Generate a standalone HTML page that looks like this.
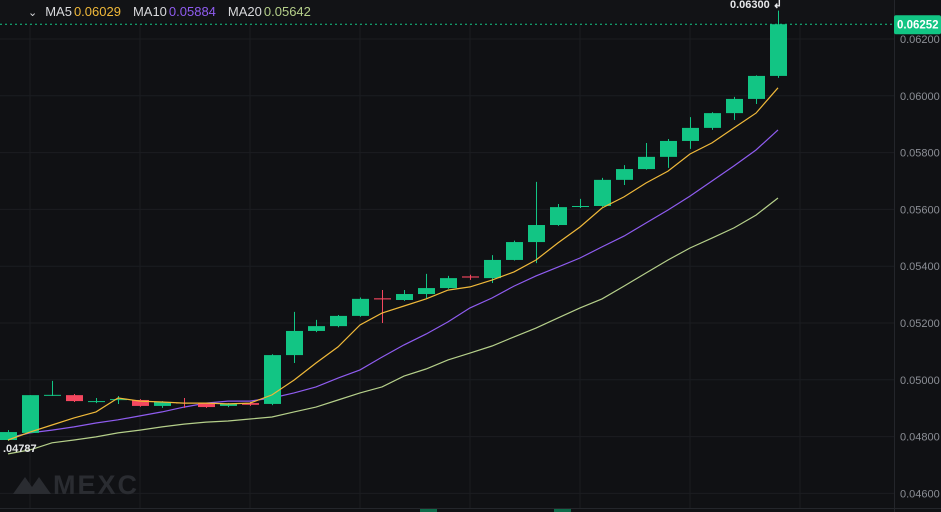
<!DOCTYPE html>
<html><head><meta charset="utf-8">
<style>
html,body{margin:0;padding:0;background:#101114;}
#wrap{position:relative;width:941px;height:512px;overflow:hidden;background:#101114;font-family:"Liberation Sans",sans-serif;}
svg{position:absolute;left:0;top:0;}
#legend{position:absolute;left:28px;top:4px;font-size:13px;color:#d8d9dc;white-space:nowrap;}
#legend span{margin-right:2px}
</style></head>
<body>
<div id="wrap">
<svg id="chart" width="941" height="512"></svg>
<div id="legend">
<span style="font-size:11px;margin-right:8px;">&#8964;</span><span>MA5</span><span style="color:#f0b93a;margin-right:12px">0.06029</span><span>MA10</span><span style="color:#8f5cf0;margin-right:12px">0.05884</span><span>MA20</span><span style="color:#b5cf8a">0.05642</span>
</div>
</div>
<script>
const opens  = [0.04788,0.04813,0.04944,0.04946,0.04925,0.04930,0.04929,0.04908,0.04920,0.04918,0.04908,0.04918,0.04915,0.05087,0.05172,0.05189,0.05225,0.05287,0.05281,0.05302,0.05323,0.05364,0.05358,0.05422,0.05485,0.05545,0.05610,0.05612,0.05704,0.05742,0.05785,0.05841,0.05887,0.05939,0.05989,0.06070];
const closes = [0.04816,0.04946,0.04947,0.04925,0.04925,0.04932,0.04908,0.04922,0.04917,0.04904,0.04915,0.04912,0.05087,0.05172,0.05189,0.05225,0.05285,0.05283,0.05302,0.05323,0.05358,0.05360,0.05422,0.05485,0.05545,0.05608,0.05612,0.05704,0.05742,0.05785,0.05841,0.05887,0.05939,0.05989,0.06070,0.06252];
const highs  = [0.04823,0.04946,0.04996,0.04950,0.04936,0.04943,0.04932,0.04925,0.04936,0.04920,0.04918,0.04922,0.05090,0.05239,0.05211,0.05228,0.05290,0.05316,0.05316,0.05373,0.05366,0.05370,0.05439,0.05490,0.05697,0.05619,0.05637,0.05711,0.05756,0.05834,0.05848,0.05925,0.05942,0.05996,0.06072,0.06300];
const lows   = [0.04785,0.04813,0.04943,0.04922,0.04918,0.04915,0.04905,0.04901,0.04901,0.04901,0.04904,0.04908,0.04911,0.05059,0.05168,0.05185,0.05222,0.05200,0.05278,0.05288,0.05320,0.05352,0.05341,0.05420,0.05411,0.05542,0.05605,0.05609,0.05686,0.05740,0.05746,0.05813,0.05880,0.05915,0.05971,0.06063];
const ma5  = [0.04788,0.04816,0.04841,0.04866,0.04887,0.04936,0.04925,0.04922,0.04918,0.04918,0.04915,0.04918,0.04947,0.04999,0.05059,0.05116,0.05193,0.05235,0.05260,0.05285,0.05316,0.05327,0.05351,0.05380,0.05422,0.05482,0.05538,0.05605,0.05644,0.05693,0.05735,0.05795,0.05834,0.05887,0.05939,0.06028];
const ma10 = [0.04795,0.04813,0.04823,0.04834,0.04848,0.04859,0.04873,0.04887,0.04904,0.04918,0.04925,0.04925,0.04936,0.04954,0.04975,0.05006,0.05035,0.05080,0.05123,0.05161,0.05204,0.05253,0.05288,0.05330,0.05366,0.05397,0.05429,0.05468,0.05506,0.05552,0.05598,0.05647,0.05700,0.05753,0.05809,0.05880];
const ma20 = [0.04739,0.04753,0.04778,0.04788,0.04799,0.04813,0.04823,0.04834,0.04844,0.04851,0.04855,0.04862,0.04869,0.04887,0.04904,0.04929,0.04954,0.04975,0.05013,0.05038,0.05070,0.05094,0.05119,0.05151,0.05182,0.05218,0.05253,0.05285,0.05330,0.05376,0.05422,0.05464,0.05499,0.05535,0.05580,0.05640];
const yTicks = [0.062,0.060,0.058,0.056,0.054,0.052,0.050,0.048,0.046];
const yTickLabels = ["0.06200","0.06000","0.05800","0.05600","0.05400","0.05200","0.05000","0.04800","0.04600"];
const lastPrice = 0.06252, lastLabel = "0.06252";
const highLabel = "0.06300", lowLabel = ".04787";

const NS="http://www.w3.org/2000/svg";
const svg=document.getElementById('chart');
function y(v){return 39+(0.062-v)*28400;}
function x(i){return 8+i*22;}
function el(t,a,p){const e=document.createElementNS(NS,t);for(const k in a)e.setAttribute(k,a[k]);(p||svg).appendChild(e);return e;}

const grid=el('g',{});


for(let gx=30;gx<894;gx+=110){el('line',{x1:gx,x2:gx,y1:24,y2:508,stroke:'#1b1d21','stroke-width':1},grid);}
yTicks.forEach(t=>{el('line',{x1:0,x2:894,y1:y(t),y2:y(t),stroke:'#1b1d21','stroke-width':1},grid);});
el('line',{x1:0,x2:941,y1:508.5,y2:508.5,stroke:'#24262b','stroke-width':1},grid);
el('line',{x1:894.5,x2:894.5,y1:0,y2:512,stroke:'#24262b','stroke-width':1},grid);

const hb=el('rect',{x:0,y:0,width:894,height:22,fill:'#121316'});



const wm=el('g',{});


el('path',{d:'M13 494 L25 477 L32 487 L39 477 L46 487 L51 494 Z',fill:'#2a2c31'},wm);
const wt=el('text',{x:53,y:494,fill:'#2a2c31','font-size':27,'font-weight':'bold','font-family':'Liberation Sans, sans-serif','letter-spacing':'2'},wm);
wt.textContent='MEXC';

yTicks.forEach((t,i)=>{const tx=el('text',{x:900,y:y(t)+4,fill:'#8c8f96','font-size':11,'font-family':'Liberation Sans, sans-serif'});


tx.textContent=yTickLabels[i];});

function line(arr,color,name){const p=el('polyline',{points:arr.map((v,i)=>x(i)+','+y(v).toFixed(1)).join(' '),fill:'none',stroke:color,'stroke-width':1.2});

}
line(ma20,'#b5cf8a','ma20-line');
line(ma10,'#8f5cf0','ma10-line');

const cg=el('g',{});


opens.forEach((o,i)=>{const c=closes[i];const up=c>=o;const col=up?'#12c584':'#f5475f';
const g=el('g',{},cg);


el('line',{x1:x(i)+0.5,x2:x(i)+0.5,y1:y(highs[i]),y2:y(lows[i]),stroke:col,'stroke-width':1},g);
const top=y(Math.max(o,c)),bot=y(Math.min(o,c));
el('rect',{x:x(i)-8,y:top,width:17,height:Math.max(1,bot-top),fill:col},g);});

line(ma5,'#f0b93a','ma5-line');

const lp=el('line',{x1:0,x2:894,y1:y(lastPrice),y2:y(lastPrice),stroke:'#12c584','stroke-width':1,'stroke-dasharray':'2,3'});


const tag=el('g',{});


el('rect',{x:894,y:y(lastPrice)-9,width:47,height:19,fill:'#12c584',rx:2},tag);
const tt=el('text',{x:897,y:y(lastPrice)+4.5,fill:'#ffffff','font-size':11.5,'font-weight':'bold','font-family':'Liberation Sans, sans-serif'},tag);
tt.textContent=lastLabel;

const ht=el('text',{x:730,y:8,fill:'#e6e7ea','font-size':11,'font-weight':'bold','font-family':'Liberation Sans, sans-serif'});


ht.textContent=highLabel+' \u21B2';
const lt=el('text',{x:3,y:452,fill:'#e6e7ea','font-size':11,'font-weight':'bold','font-family':'Liberation Sans, sans-serif'});


lt.textContent=lowLabel;

[428,562].forEach(vx=>{const r=el('rect',{x:vx-8,y:509,width:17,height:3,fill:'#0e6b4a'});

});
</script>
</body></html>
